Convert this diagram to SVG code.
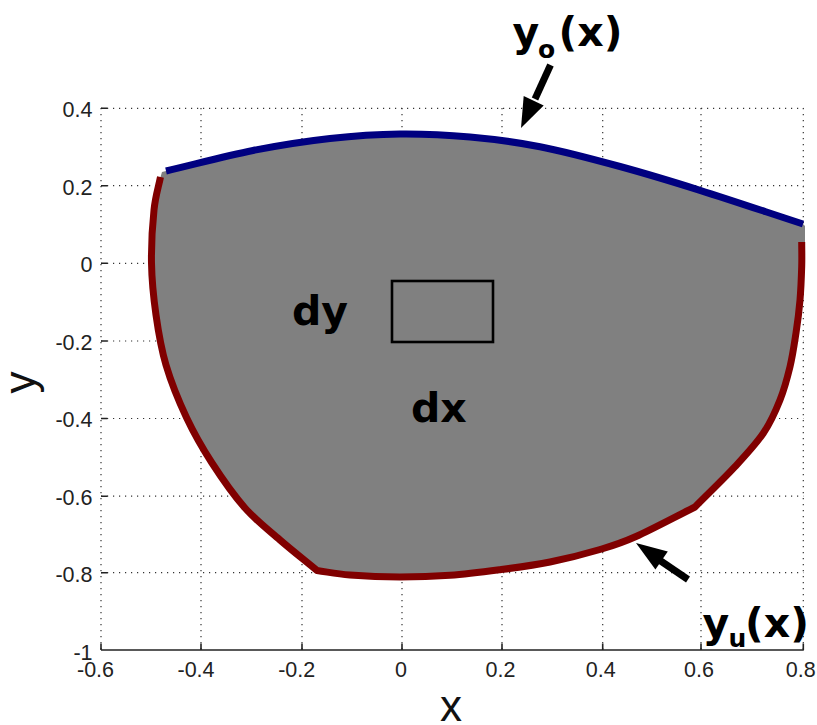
<svg xmlns="http://www.w3.org/2000/svg" width="817" height="725" viewBox="0 0 817 725">
<style>
.grid{stroke:#333;stroke-width:1.2;stroke-dasharray:1.2 4.8;fill:none}
.axis{stroke:#222;stroke-width:1.6;fill:none}
.tick{font-family:"Liberation Sans",Arial,sans-serif;font-size:21.5px;fill:#222}
.xt{text-anchor:middle}
.yt{text-anchor:end}
.alab{font-family:"Liberation Sans",Arial,sans-serif;font-size:44px;fill:#111}
.bold{font-family:"DejaVu Sans",Verdana,sans-serif;font-weight:bold;font-size:41px;fill:#000}
.sub{font-size:25px}
.blue{stroke:#000080;stroke-width:7;fill:none}
.red{stroke:#800000;stroke-width:7;fill:none;stroke-linejoin:round}
.arrow{fill:#000;stroke:none}
.shaft{stroke:#000;stroke-width:7;fill:none}
</style>
<rect width="817" height="725" fill="#fff"/>
<g id="grid">
<path class="grid" d="M101,108V650M201,108V650M302,108V650M402,108V650M502,108V650M602.7,108V650M701,108V650M803.3,108V650"/>
<path class="grid" d="M101,108.3H803.3M101,185.7H803.3M101,263.3H803.3M101,341H803.3M101,418.5H803.3M101,496.2H803.3M101,572.7H803.3"/>
</g>
<g id="region">
<path fill="#808080" d="M160.5,177 C158.3,188 155.5,195.7 154,210 C152.5,224.3 151.2,245.5 151.5,263 C151.8,280.5 153.6,298 156,315 C158.4,332 160.9,347.8 166,365 C171.1,382.2 179,401.7 186.7,418 C194.4,434.3 202.3,448 212,463 C221.7,478 233.7,495.2 245,508 C256.3,520.8 268,529.6 280,540 C292,550.4 304.7,560.3 317,570.5 C328,572 336.2,573.9 350,575 C363.8,576.1 383.3,577 400,577 C416.7,577 433.3,576.5 450,575.3 C466.7,574.1 483.3,571.9 500,569.7 C516.7,567.5 533.3,565.4 550,562 C566.7,558.6 585.7,553.75 600,549.5 C614.3,545.25 620.2,543.6 636,536.5 C651.8,529.4 675.3,516.8 695,507 C708.3,493.6 723.6,479 735,466.7 C746.4,454.4 755.8,444.4 763.3,433.3 C770.8,422.2 775.6,411.1 780,400 C784.4,388.9 787.3,377.9 790,366.7 C792.7,355.5 794.3,344.1 796,333 C797.7,321.9 799.05,311.05 800,300 C800.95,288.95 801.4,276.4 801.7,266.7 C802,257 801.7,250.2 801.7,242 L805,242 L805,226 L803,224 C768.7,212.8 730.5,199.9 700,190.3 C669.5,180.7 646.7,173.8 620,166.5 C593.3,159.2 565,151.6 540,146.7 C515,141.8 493.3,139.1 470,137 C446.7,134.9 423.3,133.75 400,134 C376.7,134.25 354.5,135.75 330,138.5 C305.5,141.25 280.3,145.1 253,150.5 C225.7,155.9 195,164.2 166,171 L162,172 Z"/>
</g>
<g id="curves">
<path id="yo-curve" class="blue" d="M166,171 C195,164.2 225.7,155.9 253,150.5 C280.3,145.1 305.5,141.25 330,138.5 C354.5,135.75 376.7,134.25 400,134 C423.3,133.75 446.7,134.9 470,137 C493.3,139.1 515,141.8 540,146.7 C565,151.6 593.3,159.2 620,166.5 C646.7,173.8 669.5,180.7 700,190.3 C730.5,199.9 768.7,212.8 803,224"/>
<path id="yu-curve" class="red" d="M160.5,177 C158.3,188 155.5,195.7 154,210 C152.5,224.3 151.2,245.5 151.5,263 C151.8,280.5 153.6,298 156,315 C158.4,332 160.9,347.8 166,365 C171.1,382.2 179,401.7 186.7,418 C194.4,434.3 202.3,448 212,463 C221.7,478 233.7,495.2 245,508 C256.3,520.8 268,529.6 280,540 C292,550.4 304.7,560.3 317,570.5 C328,572 336.2,573.9 350,575 C363.8,576.1 383.3,577 400,577 C416.7,577 433.3,576.5 450,575.3 C466.7,574.1 483.3,571.9 500,569.7 C516.7,567.5 533.3,565.4 550,562 C566.7,558.6 585.7,553.75 600,549.5 C614.3,545.25 620.2,543.6 636,536.5 C651.8,529.4 675.3,516.8 695,507 C708.3,493.6 723.6,479 735,466.7 C746.4,454.4 755.8,444.4 763.3,433.3 C770.8,422.2 775.6,411.1 780,400 C784.4,388.9 787.3,377.9 790,366.7 C792.7,355.5 794.3,344.1 796,333 C797.7,321.9 799.05,311.05 800,300 C800.95,288.95 801.4,276.4 801.7,266.7 C802,257 801.7,250.2 801.7,242"/>
</g>
<g id="axes">
<path class="axis" d="M101,650H803.8"/>
<path class="axis" d="M101,650v-6.5M201,650v-6.5M302,650v-6.5M402,650v-6.5M502,650v-6.5M602.7,650v-6.5M701,650v-6.5M803.3,650v-6.5"/>
<path class="axis" d="M101,108.3h6.5M101,185.7h6.5M101,263.3h6.5M101,341h6.5M101,418.5h6.5M101,496.2h6.5M101,572.7h6.5"/>
<g class="tick xt">
<text x="95.5" y="677">-0.6</text>
<text x="196" y="677">-0.4</text>
<text x="296.7" y="677">-0.2</text>
<text x="401" y="677">0</text>
<text x="500.5" y="677">0.2</text>
<text x="600.8" y="677">0.4</text>
<text x="699" y="677">0.6</text>
<text x="800.8" y="677">0.8</text>
</g>
<g class="tick yt">
<text x="92.5" y="116.8">0.4</text>
<text x="92.5" y="194.5">0.2</text>
<text x="92.5" y="272.3">0</text>
<text x="92.5" y="350">-0.2</text>
<text x="92.5" y="427.3">-0.4</text>
<text x="92.5" y="505">-0.6</text>
<text x="92.5" y="581.7">-0.8</text>
<text x="92.5" y="660">-1</text>
</g>
<text class="alab" x="451" y="721" text-anchor="middle">x</text>
<text class="alab" transform="translate(35,382.5) rotate(-90)" text-anchor="middle">y</text>
</g>
<g id="element">
<rect x="392" y="281" width="101" height="61" fill="none" stroke="#000" stroke-width="2.6"/>
<text class="bold" x="292" y="325">dy</text>
<text class="bold" x="411" y="421.7">dx</text>
</g>
<g id="label-yo">
<text class="bold" x="512.5" y="46">y<tspan class="sub" x="538" y="57.5">o</tspan><tspan x="558.6" y="46">(x)</tspan></text>
<line class="shaft" x1="550.5" y1="65" x2="535" y2="99"/>
<polygon class="arrow" points="521,128 543.7,105.5 523.7,96.1"/>
</g>
<g id="label-yu">
<text class="bold" x="702.5" y="637">y<tspan class="sub" x="728.5" y="647">u</tspan><tspan x="745" y="637">(x)</tspan></text>
<line class="shaft" x1="688" y1="579.5" x2="660" y2="560.5"/>
<polygon class="arrow" points="636,543 667.8,551.4 655.4,569.6"/>
</g>
</svg>
